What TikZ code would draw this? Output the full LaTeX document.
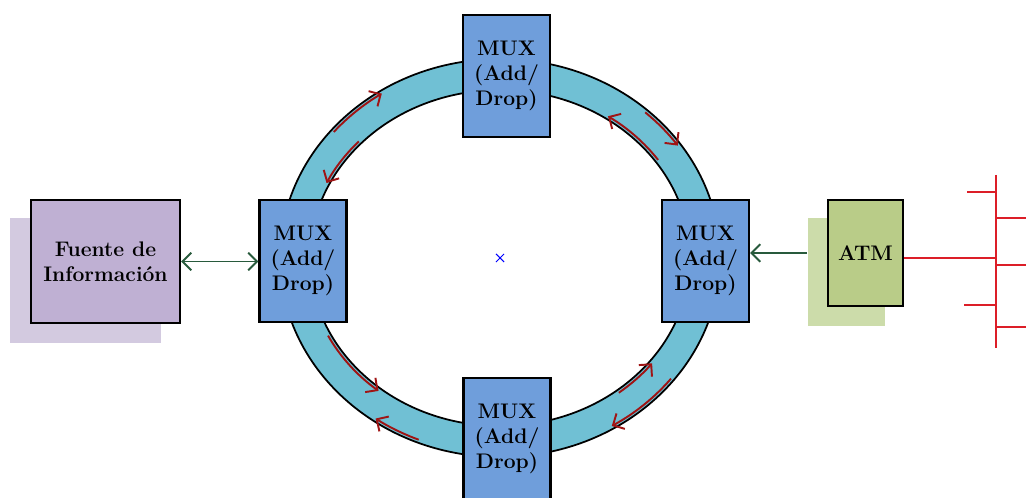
\documentclass[tikz,border=0pt]{standalone}
\usetikzlibrary{arrows.meta,shapes.misc}
\definecolor{muxazul}{RGB}{111,158,219}
\definecolor{anillo}{RGB}{112,192,212}
\definecolor{lila}{RGB}{191,176,211}
\definecolor{lilaclaro}{RGB}{211,202,224}
\definecolor{verdeatm}{RGB}{185,204,136}
\definecolor{verdeclaro}{RGB}{204,220,170}
\definecolor{verdeosc}{RGB}{40,90,60}
\definecolor{rojobus}{RGB}{220,30,40}
\definecolor{rojoflecha}{RGB}{160,20,20}

\begin{document}
\begin{tikzpicture}[line width=1.0pt,
  >={Straight Barb[length=5pt,width=10pt]},
  caja/.style={draw, line width=1.3pt, inner sep=0pt, align=center,
    font=\bfseries\fontsize{12}{14}\selectfont},
  mux/.style={caja, fill=muxazul, minimum width=1.74cm, minimum height=2.44cm},
  sombra/.style={inner sep=0pt}]
\useasboundingbox (0,0) rectangle (20.52,9.96);
\coordinate (c) at (10.0,4.8);
% sombras
\node[sombra, fill=lilaclaro, minimum width=3.02cm, minimum height=2.5cm] (fuentesh) at (1.71,4.35) {};
\node[sombra, fill=verdeclaro, minimum width=1.54cm, minimum height=2.16cm] (atmsh) at (16.93,4.52) {};
% anillo
\fill[anillo, even odd rule] (c) ellipse (4.4 and 3.98) (c) ellipse (3.8 and 3.36);
\draw (c) ellipse (4.4 and 3.98);
\draw (c) ellipse (3.8 and 3.36);
% flechas rojas sobre el anillo
\foreach \a/\b/\s/\e in {4.34/3.92/140/123, 3.86/3.42/137/154,
    4.34/3.92/48/35, 3.86/3.42/35/56,
    3.86/3.42/207/231, 4.34/3.92/248/235,
    3.86/3.42/-52/-38, 4.34/3.92/-38/-59}
  \draw[->, rojoflecha, line width=1.1pt] (c) ++(\s:\a cm and \b cm)
    arc[start angle=\s, end angle=\e, x radius=\a cm, y radius=\b cm];
% centro
\node[cross out, draw=blue, line width=0.6pt, minimum size=4pt, inner sep=0pt] (centro) at (c) {};
% multiplexores
\node[mux] (muxt) at (10.13,8.44) {MUX\\(Add/\\Drop)};
\node[mux] (muxl) at (6.06,4.74) {MUX\\(Add/\\Drop)};
\node[mux] (muxr) at (14.11,4.74) {MUX\\(Add/\\Drop)};
\node[mux] (muxb) at (10.14,1.18) {MUX\\(Add/\\Drop)};
% fuente y ATM
\node[caja, fill=lila, minimum width=2.98cm, minimum height=2.46cm] (fuente) at (2.11,4.73) {Fuente de\\Información};
\node[caja, fill=verdeatm, minimum width=1.5cm, minimum height=2.12cm] (atm) at (17.31,4.9) {ATM};
% enlaces
\draw[<->, verdeosc, line width=1.1pt] (fuente.east) -- (muxl.west |- fuente.east);
\draw[->, verdeosc, line width=1.1pt] (atmsh.west |- atm.center) -- (muxr.east |- atm.center);
% bus
\coordinate (bus) at (19.92,4.8);
\coordinate (bustop) at (19.92,6.46);
\coordinate (busbot) at (19.92,3.0);
\draw[rojobus, line width=1.4pt] (atm.east |- bus) -- (bus);
\draw[rojobus, line width=1.4pt] (bustop) -- (busbot);
\foreach \y/\x in {6.12/19.34, 3.86/19.28}
  \draw[rojobus, line width=1.4pt] (bustop |- 0,\y) -- (\x,\y);
\foreach \y in {5.6, 4.66, 3.42}
  \draw[rojobus, line width=1.4pt] (bustop |- 0,\y) -- (20.52,\y);
\end{tikzpicture}
\end{document}
